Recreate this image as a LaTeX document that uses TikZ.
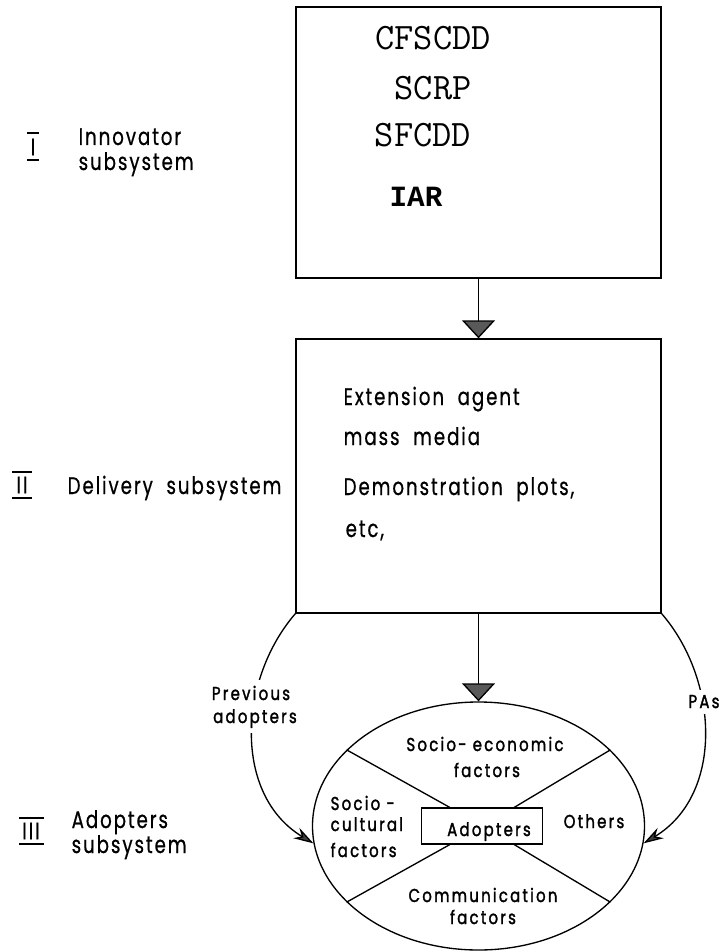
\documentclass[tikz,border=0pt]{standalone}
\usepackage{fontspec}
\usetikzlibrary{shapes.geometric,arrows.meta}
\newfontfamily\lettfont[FakeStretch=0.76,LetterSpace=8,FakeBold=0.6]{Poppins}
\newfontfamily\lettbold[FakeStretch=0.8,LetterSpace=12,FakeBold=1.6]{Poppins}
\newfontfamily\typefont{Liberation Mono}
\begin{document}
\begin{tikzpicture}[x=0.75pt,y=-0.75pt,line width=1pt,
  sysbox/.style={draw, minimum width=273.75pt, inner sep=0pt},
  flowarrow/.style={-{Triangle[width=24.75pt,length=13.5pt,fill=black!65]}},
  curvearrow/.style={-{Stealth[width=9pt,length=15pt,fill=black!75]}},
  mono/.style={font=\ttfamily\fontsize{28}{30}\selectfont, inner sep=0pt},
  big/.style={font=\lettfont\fontsize{18}{20}\selectfont, inner sep=0pt},
  small/.style={font=\lettbold\fontsize{14}{18}\selectfont, inner sep=0pt},
  gapfill/.style={fill=white, inner xsep=2pt, inner ysep=4pt},
]
\useasboundingbox[fill=white] (0,0) rectangle (721,952);

% boxes
\node[sysbox, minimum height=203.25pt] (box1) at (478.5,142.5) {};
\node[sysbox, minimum height=205.5pt] (box2) at (478.5,476) {};
\node[draw, ellipse, minimum width=249pt, minimum height=186pt, inner sep=0pt] (ell) at (478.5,826) {};
\node[draw, minimum width=90.75pt, minimum height=27pt, inner sep=0pt] (adop) at (482,826) {};

% innovator text
\node[mono] (t1) at (433,38) {CFSCDD};
\node[mono] (t2) at (433,88) {SCRP};
\node[mono] (t3) at (423,135) {SFCDD};
\node[mono, font=\typefont\bfseries\fontsize{22}{24}\selectfont] (t4) at (416,197) {IAR};

% delivery text
\node[big, anchor=base west] (d1) at (343,405) {Extension\ \ agent};
\node[big, anchor=base west] (d2) at (343,445) {mass\ \ media};
\node[big, anchor=base west] (d3) at (343,495) {Demonstration\ \ plots,};
\node[big, anchor=base west] (d4) at (345,537) {etc,};

% left labels
\node[big] (r1) at (33,147) {I};
\draw (27,133) -- (39,133) (27,160) -- (39,160);
\node[big, anchor=base west] (l1a) at (78,145) {Innovator};
\node[big, anchor=base west] (l1b) at (78,170) {subsystem};

\node[big] (r2) at (22,485) {II};
\draw (12,472) -- (32,472) (12,498) -- (32,498);
\node[big, anchor=base west] (l2) at (67,494) {Delivery\ \ subsystem};

\node[big] (r3) at (31,831) {III};
\draw (19,818) -- (44,818) (19,844) -- (44,844);
\node[big, anchor=base west] (l3a) at (71,828) {Adopters};
\node[big, anchor=base west] (l3b) at (71,853) {subsystem};

% connectors
\draw[flowarrow] (box1.south) -- (box2.north);
\draw[flowarrow] (box2.south) -- (ell.north);
\draw[curvearrow] (box2.south west) .. controls (238,680) and (233,795) .. (ell.186);
\draw[curvearrow] (box2.south east) .. controls (719,680) and (724,795) .. (ell.-6);

% X lines
\draw (ell.150) -- (adop.150);
\draw (ell.30) -- (adop.30);
\draw (ell.210) -- (adop.210);
\draw (ell.330) -- (adop.330);

% curve labels
\node[small, gapfill, anchor=base] (p1) at (251,700) {Previous};
\node[small, gapfill, anchor=base] (p2) at (255,723) {adopters};
\node[small, gapfill, anchor=base] (pas) at (704,708) {PAs};

% ellipse text
\node[small, anchor=base] (e1) at (485,751) {Socio-\ economic};
\node[small, anchor=base] (e2) at (487,777) {factors};
\node[small, anchor=base west] (c1) at (330,810) {Socio\ -};
\node[small, anchor=base west] (c2) at (330,831) {cultural};
\node[small, anchor=base west] (c3) at (330,857) {factors};
\node[small, anchor=base] (a1) at (489,836) {Adopters};
\node[small, anchor=base] (o1) at (594,828) {Others};
\node[small, anchor=base] (m1) at (483,902) {Communication};
\node[small, anchor=base] (m2) at (483,924) {factors};
\end{tikzpicture}
\end{document}
